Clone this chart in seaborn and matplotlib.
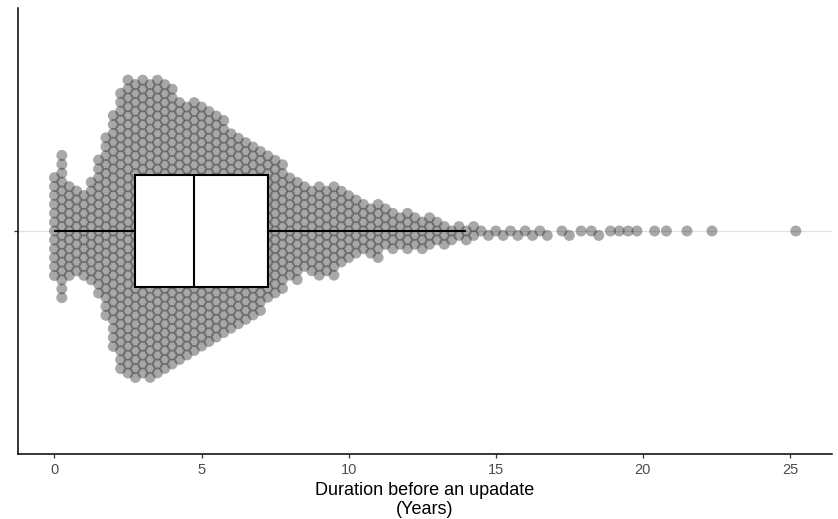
import numpy as np
import pandas as pd
import matplotlib.pyplot as plt
import seaborn as sns

durations = [0.0, 0.25, 0.5, 0.75, 1.0, 1.25, 1.5, 1.75,
             2.0, 2.25, 2.5, 2.75, 3.0, 3.25, 3.5, 3.75,
             4.0, 4.25, 4.5, 4.75, 5.0, 5.25, 5.5, 5.75,
             6.0, 6.25, 6.5, 6.75, 7.0, 7.25, 7.5, 7.75,
             8.0, 8.25, 8.5, 8.75, 9.0, 9.25, 9.5, 9.75,
             10.0, 10.25, 10.5, 10.75, 11.0, 11.25, 11.5, 11.75,
             12.0, 12.25, 12.5, 12.75, 13.0, 13.25, 13.5, 13.75,
             14.0, 14.25, 14.5, 14.75, 15.0, 15.25, 15.5, 15.75,
             16.0, 16.25, 16.5, 16.75]
# number of points at each duration (estimated from the swarm width)
counts = [12, 17, 11, 10, 10, 12, 16, 21,
          27, 32, 34, 34, 34, 34, 34, 33,
          32, 30, 29, 29, 28, 27, 26, 25,
          23, 22, 21, 20, 19, 17, 16, 15,
          12, 12, 10, 10, 11, 10, 11, 9,
          8, 7, 6, 6, 7, 5, 5, 4,
          5, 4, 4, 4, 3, 3, 2, 2,
          2, 2, 1, 1, 1, 1, 1, 1,
          1, 1, 1, 1]
# the isolated long durations on the right
outliers = [17.25, 17.5, 17.9, 18.25, 18.5, 18.9, 19.2, 19.5,
            19.8, 20.4, 20.8, 21.5, 22.35, 25.2]

years = np.concatenate([np.repeat(durations, counts), outliers])
df = pd.DataFrame({"years": years})

sns.set_theme(style="ticks")
plt.rcParams["font.family"] = ["Liberation Sans", "DejaVu Sans"]

fig = plt.figure(figsize=(8.38, 5.19), dpi=100)
ax = fig.add_axes([18 / 838, 65 / 519, 814 / 838, 446 / 519])

ax.axhline(0, color="#e2e2e2", lw=0.9, zorder=0)

sns.swarmplot(data=df, x="years", size=6.1, color="#1a1a1a", alpha=0.38,
              linewidth=0, warn_thresh=1, zorder=1, ax=ax)
sns.boxplot(data=df, x="years", width=0.25, color="white", linecolor="black",
            linewidth=1.5, showcaps=False, showfliers=False, zorder=3, ax=ax)

ax.set_xlim(-1.24, 26.43)
ax.set_ylim(0.5, -0.5)

# let seaborn lay out the swarm, then keep those positions and draw
# bigger markers so that they overlap like in the original
pts = ax.collections[0]
fig.canvas.draw()
del pts.draw
pts.set_sizes([7.9 ** 2])
pts.set_edgecolor("none")

ax.set_xticks([0, 5, 10, 15, 20, 25])
ax.set_yticks([0])
ax.set_yticklabels([""])
ax.tick_params(axis="both", length=2.6, width=0.9, color="#333333", pad=4.2,
               labelsize=10.5, labelcolor="#4d4d4d")
ax.set_xlabel("Duration before an upadate\n(Years)", fontsize=13, color="black",
              labelpad=3, linespacing=1.2)
ax.set_ylabel("")
for side in ["left", "bottom"]:
    ax.spines[side].set_linewidth(1.1)
    ax.spines[side].set_color("black")
sns.despine(ax=ax)

fig.savefig("out.png", dpi=100)
